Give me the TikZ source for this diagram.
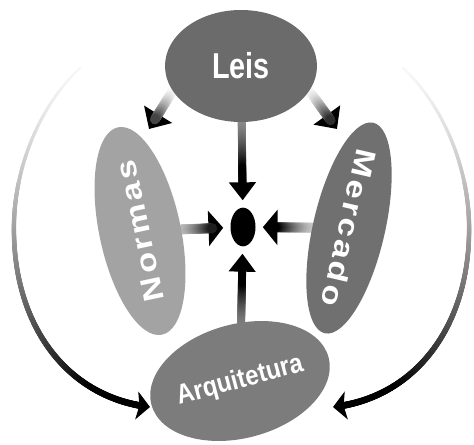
\documentclass[tikz,border=0pt]{standalone}
\usepackage{fontspec}
\setmainfont{Liberation Sans}
\newfontfamily\leisfont{Liberation Sans}[FakeStretch=0.8]
\newfontfamily\arqfont{Liberation Sans}[FakeStretch=0.88]
\newfontfamily\sidefont{Liberation Sans}[FakeStretch=1.2,LetterSpace=11]
\usetikzlibrary{shapes.geometric,arrows.meta,decorations.markings,backgrounds}

\definecolor{leisgray}{HTML}{6B6B6B}
\definecolor{normasgray}{HTML}{A3A3A3}
\definecolor{mercadogray}{HTML}{707070}
\definecolor{arqgray}{HTML}{7C7C7C}

\begin{document}
\begin{tikzpicture}[x=0.75pt,y=-0.75pt,
  blob/.style={ellipse,fill=#1,inner sep=0pt,text=white},
  % grey-to-black shaft: start shade, ramp length (pt), start radius, end radius
  shaftfade/.style n args={4}{decorate,decoration={markings,
      mark=between positions 0 and -8pt step 0.4pt with {
        \pgfmathsetmacro\fadedist{\pgfkeysvalueof{/pgf/decoration/mark info/distance from start}}
        \pgfmathsetmacro\fadepct{#1+(100-#1)*min(1,\fadedist/#2)^1.5}
        \pgfmathsetmacro\faderad{#3+(#4-#3)*\fadedist/\pgfdecoratedpathlength}
        \fill[black!\fadepct] (0,0) circle (\faderad pt);}}},
  flow/.style={draw=white,line width=#1},
  vhead/.style={-{Triangle[length=13.5pt,width=19.5pt,color=black]}},
  hhead/.style={-{Triangle[length=11pt,width=26pt,color=black]}},
  dhead/.style={-{Triangle[length=13pt,width=24pt,color=black]}},
  loophead/.style={-{Stealth[length=10pt,width=21pt,inset=2pt,color=black]}}
]
\useasboundingbox (0,0) rectangle (474,445);

% Four forces
\node[blob=leisgray,minimum width=114pt,minimum height=84pt,
  font={\leisfont\bfseries\fontsize{27}{27}\selectfont}] (leis) at (241,66) {Leis};
\node[blob=normasgray,minimum width=159pt,minimum height=61pt,rotate=102,
  font={\sidefont\bfseries\fontsize{21.5}{21.5}\selectfont}] (normas) at (140,231) {\makebox[0pt]{Normas}};
\node[blob=mercadogray,minimum width=162pt,minimum height=54pt,rotate=-103,
  font={\sidefont\bfseries\fontsize{21.5}{21.5}\selectfont}] (mercado) at (349,228) {\makebox[0pt]{Mercado}};
\node[blob=arqgray,minimum width=110pt,minimum height=85.5pt,rotate=15,
  font={\arqfont\bfseries\fontsize{20.5}{20.5}\selectfont}] (arq) at (240,381) {Arquitetura};

% Regulated point
\node[ellipse,fill=black,inner sep=0pt,minimum width=18.75pt,minimum height=29pt,
  outer sep=5.5pt] (dot) at (243,227) {};

\coordinate (ln) at (149,129);
\coordinate (rn) at (337,129);
\coordinate (ltop) at (80,68);
\coordinate (lend) at (150,407);
\coordinate (rtop) at (403,68);
\coordinate (rend) at (333,407);

\begin{scope}[on background layer]
% Into the centre
\draw[flow=5pt,vhead,postaction={shaftfade={45}{35}{3}{3}}] (leis) -- (dot);
\draw[flow=5pt,vhead,postaction={shaftfade={50}{30}{3}{3}}] (arq) -- (dot);
\draw[flow=6pt,hhead,postaction={shaftfade={25}{26}{3.7}{3.7}}] (normas) -- (dot);
\draw[flow=6pt,hhead,postaction={shaftfade={20}{28}{3.7}{3.7}}] (mercado) -- (dot);
\draw[flow=6pt,dhead,postaction={shaftfade={0}{31}{3.7}{3.7}}] (leis.200) -- (ln);
\draw[flow=6pt,dhead,postaction={shaftfade={0}{31}{3.7}{3.7}}] (leis.340) -- (rn);

% Outer loops
\draw[flow=1.5pt,loophead,postaction={shaftfade={3}{270}{1}{2.6}}] (ltop)
  .. controls (40,105) and (12,170) .. (14,235)
  .. controls (16,330) and (70,398) .. (lend);
\draw[flow=1.5pt,loophead,postaction={shaftfade={3}{270}{1}{2.6}}] (rtop)
  .. controls (443,105) and (471,170) .. (469,235)
  .. controls (467,330) and (413,398) .. (rend);
\end{scope}
\end{tikzpicture}
\end{document}
